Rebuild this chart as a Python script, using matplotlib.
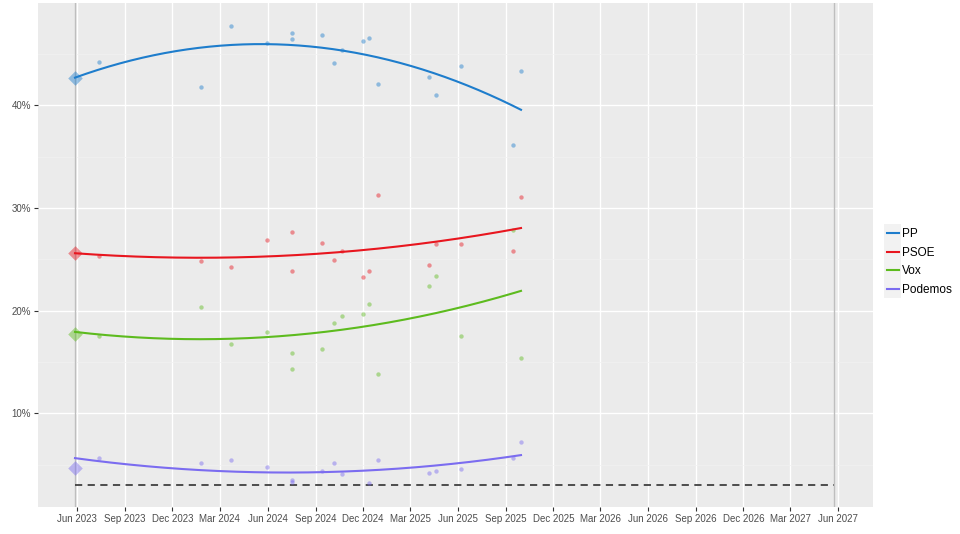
import numpy as np
import pandas as pd
import matplotlib
matplotlib.use('Agg')
import matplotlib.pyplot as plt
import matplotlib.dates as mdates
from matplotlib.patches import Rectangle

plt.rcParams['font.family'] = ['Liberation Sans', 'DejaVu Sans']

# election results (28 May 2023) and next election date
election_date = '2023-05-28'
next_election = '2027-05-23'
parties = ['PP', 'PSOE', 'Vox', 'Podemos']
colors = ['#1E7DCC', '#E8161F', '#5DBB1E', '#7B6CF0']
election_result = [42.7, 25.6, 17.7, 4.7]

# polls
poll_dates = ['2023-07-14', '2024-01-24', '2024-03-23', '2024-05-31', '2024-07-18',
              '2024-07-18', '2024-09-13', '2024-10-06', '2024-10-21', '2024-12-01',
              '2024-12-13', '2024-12-30', '2025-04-06', '2025-04-20', '2025-06-06',
              '2025-09-14', '2025-09-30']
pp = [44.2, 41.8, 47.7, 46.1, 47.0, 46.5, 46.8, 44.1, 45.4, 46.3, 46.6, 42.1, 42.8, 41.0, 43.8, 36.1, 43.3]
psoe = [25.3, 24.8, 24.3, 26.9, 27.7, 23.9, 26.6, 24.9, 25.8, 23.3, 23.9, 31.3, 24.5, 26.5, 26.5, 25.8, 31.1]
vox = [17.5, 20.4, 16.8, 17.9, 15.9, 14.3, 16.3, 18.8, 19.5, 19.7, 20.7, 13.8, 22.4, 23.4, 17.5, 27.9, 15.4]
podemos = [5.7, 5.2, 5.5, 4.8, 3.5, 3.3, 4.4, 5.2, 4.1, np.nan, 3.2, 5.5, 4.2, 4.4, 4.6, 5.7, 7.2]
threshold = 3

dates = pd.to_datetime([election_date] + poll_dates)
t = (dates - dates[0]).days.values.astype(float)

fig = plt.figure(figsize=(9.6, 5.34), dpi=100)
ax = fig.add_axes([38 / 960, 27 / 534, 834.7 / 960, 504 / 534])
ax.set_facecolor('#EBEBEB')

handles = []
for name, col, res, vals in zip(parties, colors, election_result,
                                [pp, psoe, vox, podemos]):
    y = np.array([res] + vals, dtype=float)
    ok = ~np.isnan(y)
    ax.scatter(dates[1:][ok[1:]], y[1:][ok[1:]], s=10, color=col, alpha=0.45,
               linewidths=0, zorder=3)
    ax.scatter([dates[0]], [res], s=55, marker='D', color=col, alpha=0.45,
               linewidths=0, zorder=3)
    # smooth trend: quadratic fit over the polls
    coef = np.polyfit(t[ok], y[ok], 2)
    ts = np.linspace(t[ok].min(), t[ok].max(), 200)
    line, = ax.plot(dates[0] + pd.to_timedelta(ts, unit='D'), np.polyval(coef, ts),
                    color=col, lw=1.5, label=name, zorder=4)
    handles.append(line)

ax.axvline(pd.Timestamp(election_date), color='#BEBEBE', lw=1, zorder=2)
ax.axvline(pd.Timestamp(next_election), color='#BEBEBE', lw=1, zorder=2)
ax.plot([pd.Timestamp(election_date), pd.Timestamp(next_election)], [threshold, threshold],
        color='#404040', lw=1.3, ls=(0, (4, 3)), zorder=2)

ax.set_xlim(pd.Timestamp('2023-03-18'), pd.Timestamp('2027-08-06'))
ax.set_ylim(0.89, 49.96)
ax.xaxis.set_major_locator(mdates.MonthLocator(bymonth=[3, 6, 9, 12]))
ax.xaxis.set_major_formatter(mdates.DateFormatter('%b %Y'))
ax.set_yticks([10, 20, 30, 40])
ax.set_yticklabels(['10%', '20%', '30%', '40%'])
ax.set_yticks([5, 15, 25, 35, 45], minor=True)
ax.grid(which='major', color='white', lw=1.0, zorder=0)
ax.grid(which='minor', axis='y', color='#F2F2F2', lw=0.5, zorder=0)
ax.set_axisbelow(True)
for s in ax.spines.values():
    s.set_visible(False)
ax.tick_params(which='major', length=3, color='#333333', labelsize=7,
               labelcolor='#4D4D4D', pad=2)
ax.tick_params(which='minor', length=0)

# legend keys sit on a grey strip like ggplot
fig.patches.append(Rectangle((884 / 960, 1 - 298 / 534), 17 / 960, 74 / 534,
                             transform=fig.transFigure, facecolor='#F2F2F2',
                             edgecolor='none', zorder=0))
fig.legend(handles=handles, loc='center left', bbox_to_anchor=(878 / 960, 1 - 262 / 534),
           frameon=False, fontsize=8.5, handlelength=1.0, handletextpad=0.2,
           labelspacing=0.55, borderpad=0.3)

fig.savefig('out.png', dpi=100)
